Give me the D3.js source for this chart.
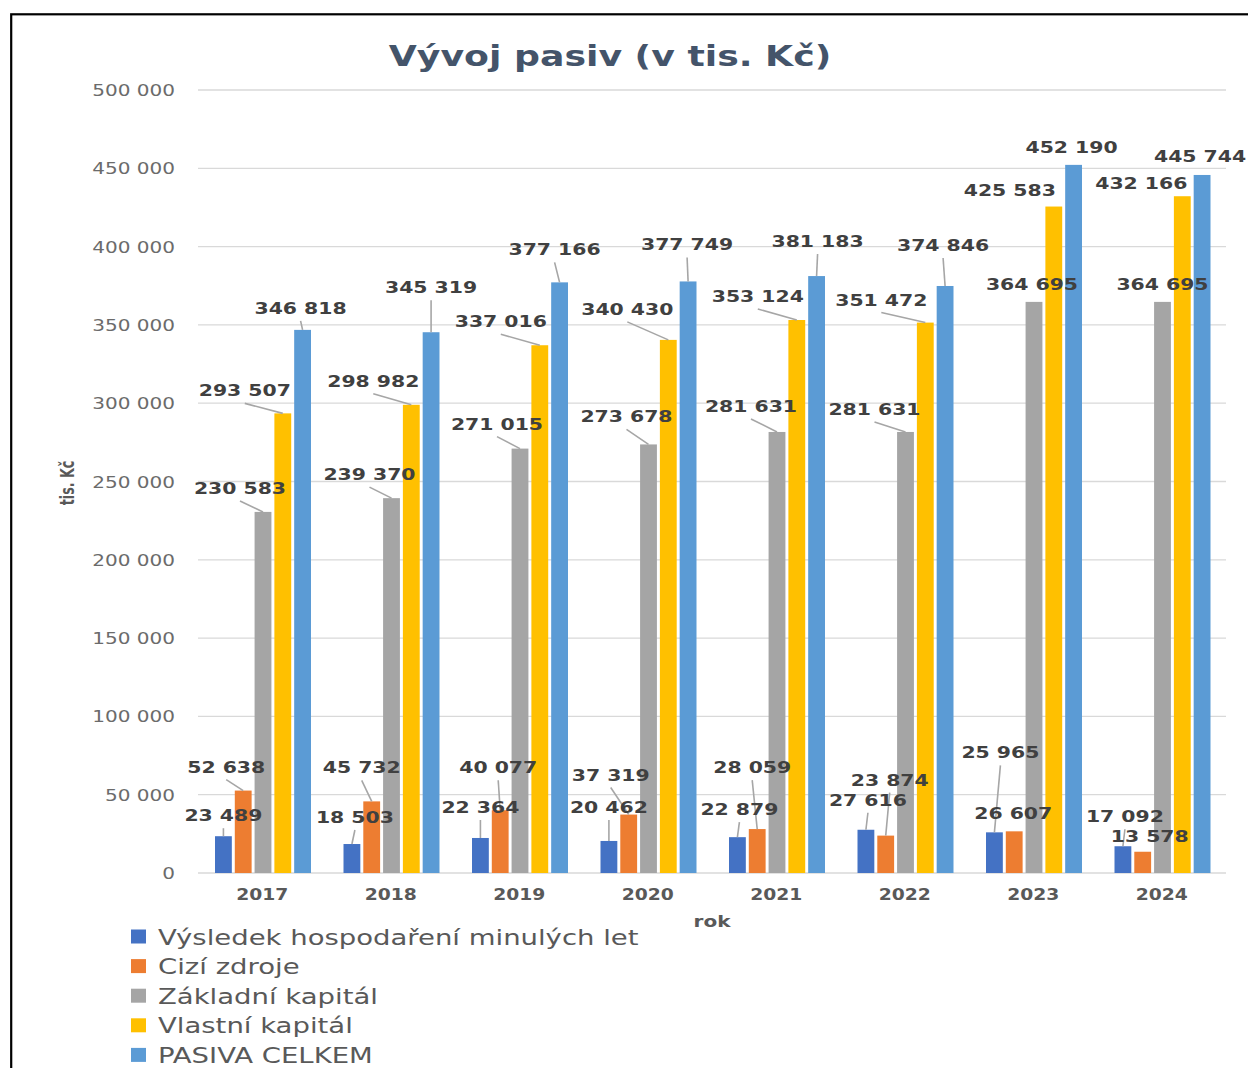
<!DOCTYPE html>
<html><head><meta charset="utf-8">
<script src="https://cdn.jsdelivr.net/npm/d3@7"></script>
<style>
html,body{margin:0;padding:0;background:#fff;}
svg{display:block;}
text{font-family:"DejaVu Sans",sans-serif;}
</style></head>
<body>
<svg id="chart" width="1248" height="1068"></svg>
<script>
// ---- data ----
const years = ["2017","2018","2019","2020","2021","2022","2023","2024"];
const seriesNames = ["Výsledek hospodaření minulých let","Cizí zdroje","Základní kapitál","Vlastní kapitál","PASIVA CELKEM"];
const vysledek = [23489, 18503, 22364, 20462, 22879, 27616, 25965, 17092];
const cizi     = [52638, 45732, 40077, 37319, 28059, 23874, 26607, 13578];
const zakladni = [230583, 239370, 271015, 273678, 281631, 281631, 364695, 364695];
const vlastni  = [293507, 298982, 337016, 340430, 353124, 351472, 425583, 432166];
const pasiva   = [346818, 345319, 377166, 377749, 381183, 374846, 452190, 445744];
const yTicks = [0, 50000, 100000, 150000, 200000, 250000, 300000, 350000, 400000, 450000, 500000];
const seriesValues = [vysledek, cizi, zakladni, vlastni, pasiva];

// ---- layout (label offsets relative to bar top, px) ----
const labelOffsets = [
  [[0,-15],[3,-21],[0,-25],[0,-28],[2,-22],[2,-24],[6,-74],[2,-24]],
  [[-17,-18],[-10,-28],[-2,-37],[-18,-34],[-5,-56],[4,-50],[-1,-12],[7,-10]],
  [[-23,-18],[-22,-18],[-23,-19],[-22,-22],[-26,-20],[-31,-17],[-2,-12],[0,-12]],
  [[-38,-17],[-38,-18],[-39,-18],[-41,-25],[-39,-18],[-44,-17],[-44,-11],[-41,-7]],
  [[-2,-16],[0,-39],[-5,-27],[-1,-31],[1,-29],[-2,-35],[-2,-12],[-2,-13]]
];
const colors = ["#4472c4","#ed7d31","#a5a5a5","#ffc000","#5b9bd5"];
const SX = 1.25;

const svg = d3.select("#chart");
// frame
svg.append("rect").attr("x",11.2).attr("y",14.3).attr("width",1400).attr("height",1200)
  .attr("fill","#fff").attr("stroke","#000").attr("stroke-width",2.2);

const x0 = d3.scaleBand().domain(years).range([198,1226]).padding(0);
const x1 = d3.scaleBand().domain(d3.range(5)).range([17,113]).paddingInner(0.15);
const y = d3.scaleLinear().domain([0,500000]).range([873,90]);

function stext(parent, x, yy, str, opts){
  const t = parent.append("text")
    .attr("transform", `translate(${x},${yy}) scale(${opts.sx||SX},1)`)
    .attr("text-anchor", opts.anchor||"start")
    .attr("font-size", opts.size)
    .attr("font-weight", opts.weight||"normal")
    .attr("fill", opts.fill||"#595959")
    .text(str);
  return t;
}

// title
stext(svg, 610, 66, "Vývoj pasiv (v tis. Kč)", {anchor:"middle", size:29, weight:"bold", fill:"#44546a"});

// gridlines
const grid = svg.append("g");
grid.selectAll("line").data(yTicks).join("line")
  .attr("x1",198).attr("x2",1226)
  .attr("y1",d=>y(d)).attr("y2",d=>y(d))
  .attr("stroke","#d9d9d9").attr("stroke-width",1.3);

// y tick labels
const fmt = v => d3.format(",")(v).replace(/,/g," ");
yTicks.forEach(v => stext(svg, 175, y(v)+6, fmt(v), {anchor:"end", size:16, fill:"#6b6b6b"}));

// y axis title
svg.append("text")
  .attr("transform","translate(74,483) rotate(-90) scale(0.79,1.25)")
  .attr("text-anchor","middle").attr("font-size",16).attr("font-weight","bold")
  .attr("fill","#595959").text("tis. Kč");

// bars
const groups = svg.append("g").selectAll("g").data(years).join("g")
  .attr("transform", d => `translate(${x0(d)},0)`);
groups.selectAll("rect").data((d,i) => seriesValues.map((s,k)=>({k, v:s[i]})))
  .join("rect")
  .attr("x", d => x1(d.k)).attr("width", x1.bandwidth())
  .attr("y", d => y(d.v)).attr("height", d => y(0)-y(d.v))
  .attr("fill", d => colors[d.k]);

// x tick labels
years.forEach(yr => stext(svg, x0(yr)+x0.bandwidth()/2, 900, yr, {anchor:"middle", size:15, weight:"bold"}));
// x axis title
stext(svg, 712, 927, "rok", {anchor:"middle", size:16, weight:"bold"});

// data labels + leaders
const lblG = svg.append("g");
seriesValues.forEach((arr, k) => {
  arr.forEach((v, i) => {
    const bx = x0(years[i]) + x1(k) + x1.bandwidth()/2;
    const by = y(v);
    const [dx, dy] = labelOffsets[k][i];
    const lx = bx + dx, ly = by + dy;
    const t = stext(lblG, lx, ly, fmt(v), {anchor:"middle", size:16.3, weight:"bold", fill:"#404040"});
    const w = t.node().getComputedTextLength()*SX;
    const left = lx - w/2, right = lx + w/2;
    const gx = bx < left ? left - bx : (bx > right ? bx - right : 0);
    const gy = by - ly;
    const gap = Math.sqrt(gx*gx + gy*gy);
    if (gap > 14) {
      lblG.insert("line", "text")
        .attr("x1", lx).attr("y1", ly + 7)
        .attr("x2", bx).attr("y2", by)
        .attr("stroke","#a6a6a6").attr("stroke-width",1.6);
    }
  });
});

// legend
const leg = svg.append("g");
seriesNames.forEach((n, k) => {
  const cy = 936.5 + k*29.6;
  leg.append("rect").attr("x",131).attr("y",cy-7).attr("width",15).attr("height",14).attr("fill",colors[k]);
  stext(leg, 158, cy+8, n, {size:22, fill:"#595959"});
});
</script>
</body></html>
